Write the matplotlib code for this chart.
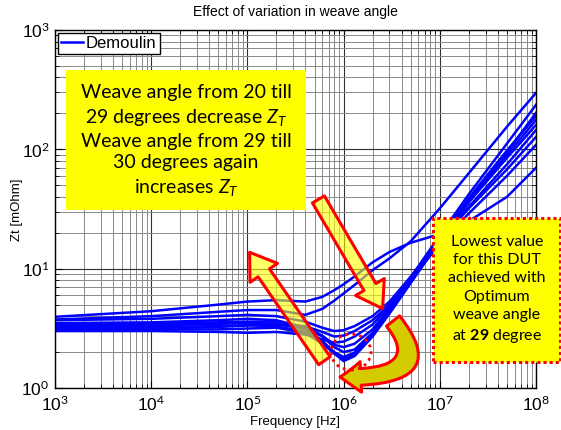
import matplotlib
matplotlib.use("Agg")
import matplotlib.pyplot as plt
from matplotlib.patches import Rectangle, Ellipse, FancyArrowPatch
from matplotlib.path import Path

plt.rcParams["font.family"] = ["Liberation Sans", "DejaVu Sans"]
plt.rcParams["mathtext.fontset"] = "custom"
plt.rcParams["mathtext.rm"] = "Lato"
plt.rcParams["mathtext.it"] = "Lato:italic"
plt.rcParams["mathtext.bf"] = "Lato:bold"

# frequency points [Hz] and transfer impedance curves [mOhm]
freq = [1e3, 1e4, 5e4, 1e5, 2e5, 4e5, 6e5, 8e5, 1e6, 1.3e6, 2e6, 3e6, 5e6, 1e7, 2e7, 5e7, 1e8]
zt_a = [3.75, 4.0, 4.35, 4.5, 4.5, 4.1, 4.6, 5.4, 6.2, 7.3, 9.7, 12.2, 17, 32, 63, 155, 297]
zt_b = [3.95, 4.4, 5.0, 5.3, 5.45, 5.3, 5.8, 6.6, 7.4, 8.6, 11.3, 13.8, 16.5, 19.5, 25, 40, 70]
zt_c = [3.3, 3.35, 3.45, 3.5, 3.45, 3.1, 2.5, 1.95, 1.68, 1.85, 2.7, 4.2, 7.6, 17, 36, 95, 202]
zt_d = [3.1, 3.15, 3.25, 3.35, 3.3, 2.95, 2.45, 2.0, 1.82, 1.98, 2.8, 4.4, 8.0, 17.5, 37, 90, 176]
zt_e = [3.5, 3.55, 3.7, 3.8, 3.7, 3.2, 2.7, 2.2, 2.0, 2.1, 2.9, 4.6, 8.5, 19, 42, 112, 236]
zt_f = [3.0, 3.0, 2.95, 2.9, 2.95, 2.8, 2.55, 2.4, 2.45, 2.7, 3.4, 4.9, 8.3, 17, 33, 75, 145]
zt_g = [3.7, 3.8, 4.0, 4.1, 4.0, 3.6, 3.2, 3.0, 3.05, 3.3, 4.0, 5.3, 8.6, 17, 32, 68, 127]
zt_h = [3.2, 3.25, 3.3, 3.35, 3.4, 3.3, 2.95, 2.7, 2.75, 3.0, 3.7, 5.0, 8.2, 16, 29, 60, 109]
zt_i = [3.4, 3.45, 3.55, 3.6, 3.6, 3.25, 2.75, 2.3, 2.2, 2.35, 3.1, 4.7, 8.4, 18, 39, 98, 190]
zt_j = [3.05, 3.1, 3.1, 3.15, 3.2, 2.9, 2.35, 1.95, 1.75, 1.9, 2.75, 4.3, 7.8, 17, 36, 85, 160]
curves = [zt_a, zt_b, zt_c, zt_d, zt_e, zt_f, zt_g, zt_h, zt_i, zt_j]

xticks = [1e3, 1e4, 1e5, 1e6, 1e7, 1e8]
xtick_labels = ["10$^{3}$", "10$^{4}$", "10$^{5}$", "10$^{6}$", "10$^{7}$", "10$^{8}$"]
yticks = [1e0, 1e1, 1e2, 1e3]
ytick_labels = ["10$^{0}$", "10$^{1}$", "10$^{2}$", "10$^{3}$"]

W, H = 561, 430
fig = plt.figure(figsize=(W / 100, H / 100), dpi=100)
ax = fig.add_axes([55 / W, 1 - 388 / H, (536 - 55) / W, (388 - 30) / H])

for i, zt in enumerate(curves):
    ax.plot(freq, zt, color="#0000ff", lw=1.8, label="Demoulin" if i == 0 else None)

ax.set_xscale("log")
ax.set_yscale("log")
ax.set_xlim(1e3, 1e8)
ax.set_ylim(1e0, 1e3)
ax.set_xticks(xticks, labels=xtick_labels)
ax.set_yticks(yticks, labels=ytick_labels)
ax.grid(True, which="major", color="#303030", lw=0.8)
ax.grid(True, which="minor", color="#8a8a8a", lw=0.7)
ax.tick_params(which="both", direction="in", top=True, right=True, labelsize=12.5)
ax.tick_params(which="major", length=5)
ax.tick_params(axis="x", which="major", pad=5)
ax.tick_params(axis="y", which="major", pad=4)
ax.tick_params(which="minor", length=3)
for s in ax.spines.values():
    s.set_linewidth(1.0)

leg = ax.legend(loc="upper left", fontsize=12, handlelength=1.3, handletextpad=0.2,
                borderpad=0.2, borderaxespad=0.15, fancybox=False, framealpha=1)
leg.get_frame().set_edgecolor("black")
leg.get_frame().set_linewidth(1.0)


def fx(x):
    return x / W


def fy(y):
    return 1 - y / H


fig.text(fx(295), fy(12), "Effect of variation in weave angle", ha="center", va="center", fontsize=10)
fig.text(fx(295), fy(422), "Frequency [Hz]", ha="center", va="center", fontsize=9.5)
fig.text(fx(17), fy(210), "Zt [mOhm]", ha="center", va="center", rotation=90, fontsize=9.5)

# left text box
fig.add_artist(Rectangle((fx(66), fy(210)), fx(306) - fx(66), fy(70) - fy(210),
                         transform=fig.transFigure, facecolor="#ffff00", edgecolor="none"))
fig.text(fx(186), fy(141),
         "Weave angle from 20 till\n29 degrees decrease $Z_T$\nWeave angle from 29 till\n"
         "30 degrees again\nincreases $Z_T$",
         ha="center", va="center", fontsize=14, family="Lato", linespacing=1.35)

# right text box
fig.add_artist(Rectangle((fx(433), fy(362)), fx(560) - fx(433), fy(218) - fy(362),
                         transform=fig.transFigure, facecolor="#ffff00", edgecolor="red",
                         lw=2.2, linestyle=(0, (1.0, 1.0))))
fig.text(fx(497), fy(290),
         "Lowest value\nfor this DUT\nachieved with\nOptimum\nweave angle\nat $\\mathbf{29}$ degree",
         ha="center", va="center", fontsize=11.5, family="Lato", linespacing=1.4)

# straight block arrows
arrow_style = "simple,head_length=18,head_width=24,tail_width=10"
for (x0, y0), (x1, y1) in [((326, 363), (248, 250)), ((317, 197), (384, 311))]:
    fig.add_artist(FancyArrowPatch((fx(x0), fy(y0)), (fx(x1), fy(y1)), transform=fig.transFigure,
                                   arrowstyle=arrow_style, mutation_scale=1,
                                   facecolor=(1, 1, 0, 0.6), edgecolor="red", lw=2.2))

# curved arrow pointing at the minimum
curve = Path([(fx(393), fy(321)), (fx(440), fy(380)), (fx(340), fy(377))],
             [Path.MOVETO, Path.CURVE3, Path.CURVE3])
fig.add_artist(FancyArrowPatch(path=curve, transform=fig.transFigure,
                               arrowstyle="simple,head_length=15,head_width=22,tail_width=12",
                               mutation_scale=1, facecolor="#d4cc00", edgecolor="red", lw=2.2))

# dotted circle around the minimum
fig.add_artist(Ellipse((fx(351), fy(352)), fx(40), 36 / H, transform=fig.transFigure,
                       facecolor="none", edgecolor="red", lw=2.0, linestyle=(0, (1, 1.5))))

fig.savefig("out.png", dpi=100)
